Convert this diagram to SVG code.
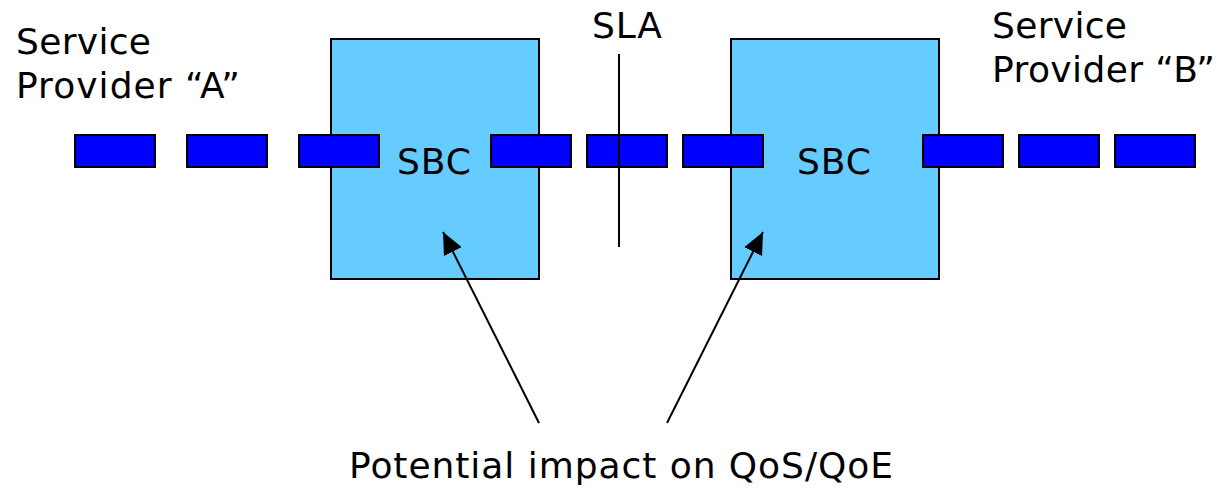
<svg xmlns="http://www.w3.org/2000/svg" width="1218" height="494" viewBox="0 0 1218 494">
<defs>
<marker id="ah" markerUnits="userSpaceOnUse" markerWidth="24" markerHeight="20" refX="22" refY="10" orient="auto">
<path d="M0,0 L22,10 L0,20 Z" fill="#000"/>
</marker>
</defs>
<style>
text{font-family:"DejaVu Sans",Verdana,sans-serif;font-size:36px;fill:#000}
.box{fill:#66ccff;stroke:#000;stroke-width:2}
.dash{fill:#0000ff;stroke:#000;stroke-width:2}
.ln{stroke:#000;stroke-width:2;fill:none}
</style>
<rect width="1218" height="494" fill="#fff"/>
<g id="label-a"><text x="16" y="54" textLength="135" lengthAdjust="spacing">Service</text><text x="16" y="98" textLength="224" lengthAdjust="spacing">Provider “A”</text></g>
<g id="label-b"><text x="992" y="38" textLength="135" lengthAdjust="spacing">Service</text><text x="992" y="82" textLength="223" lengthAdjust="spacing">Provider “B”</text></g>
<g id="sbc1"><rect class="box" x="331" y="39" width="208" height="240"/></g>
<g id="sbc2"><rect class="box" x="731" y="39" width="208" height="240"/></g>
<g id="path">
<rect class="dash" x="75" y="135" width="80" height="32"/>
<rect class="dash" x="187" y="135" width="80" height="32"/>
<rect class="dash" x="299" y="135" width="80" height="32"/>
<rect class="dash" x="491" y="135" width="80" height="32"/>
<rect class="dash" x="587" y="135" width="80" height="32"/>
<rect class="dash" x="683" y="135" width="80" height="32"/>
<rect class="dash" x="923" y="135" width="80" height="32"/>
<rect class="dash" x="1019" y="135" width="80" height="32"/>
<rect class="dash" x="1115" y="135" width="80" height="32"/>
</g>
<g id="sbc-labels"><text x="397" y="174" textLength="74" lengthAdjust="spacing">SBC</text><text x="797" y="174" textLength="74" lengthAdjust="spacing">SBC</text></g>
<g id="sla"><line class="ln" x1="619" y1="54" x2="619" y2="247"/><text x="592" y="38" textLength="70" lengthAdjust="spacing">SLA</text></g>
<g id="connectors">
<line class="ln" x1="539" y1="423" x2="443" y2="232" marker-end="url(#ah)"/>
<line class="ln" x1="667" y1="423" x2="763" y2="232" marker-end="url(#ah)"/>
</g>
<g id="impact"><text x="349" y="478" textLength="544" lengthAdjust="spacing">Potential impact on QoS/QoE</text></g>
</svg>
